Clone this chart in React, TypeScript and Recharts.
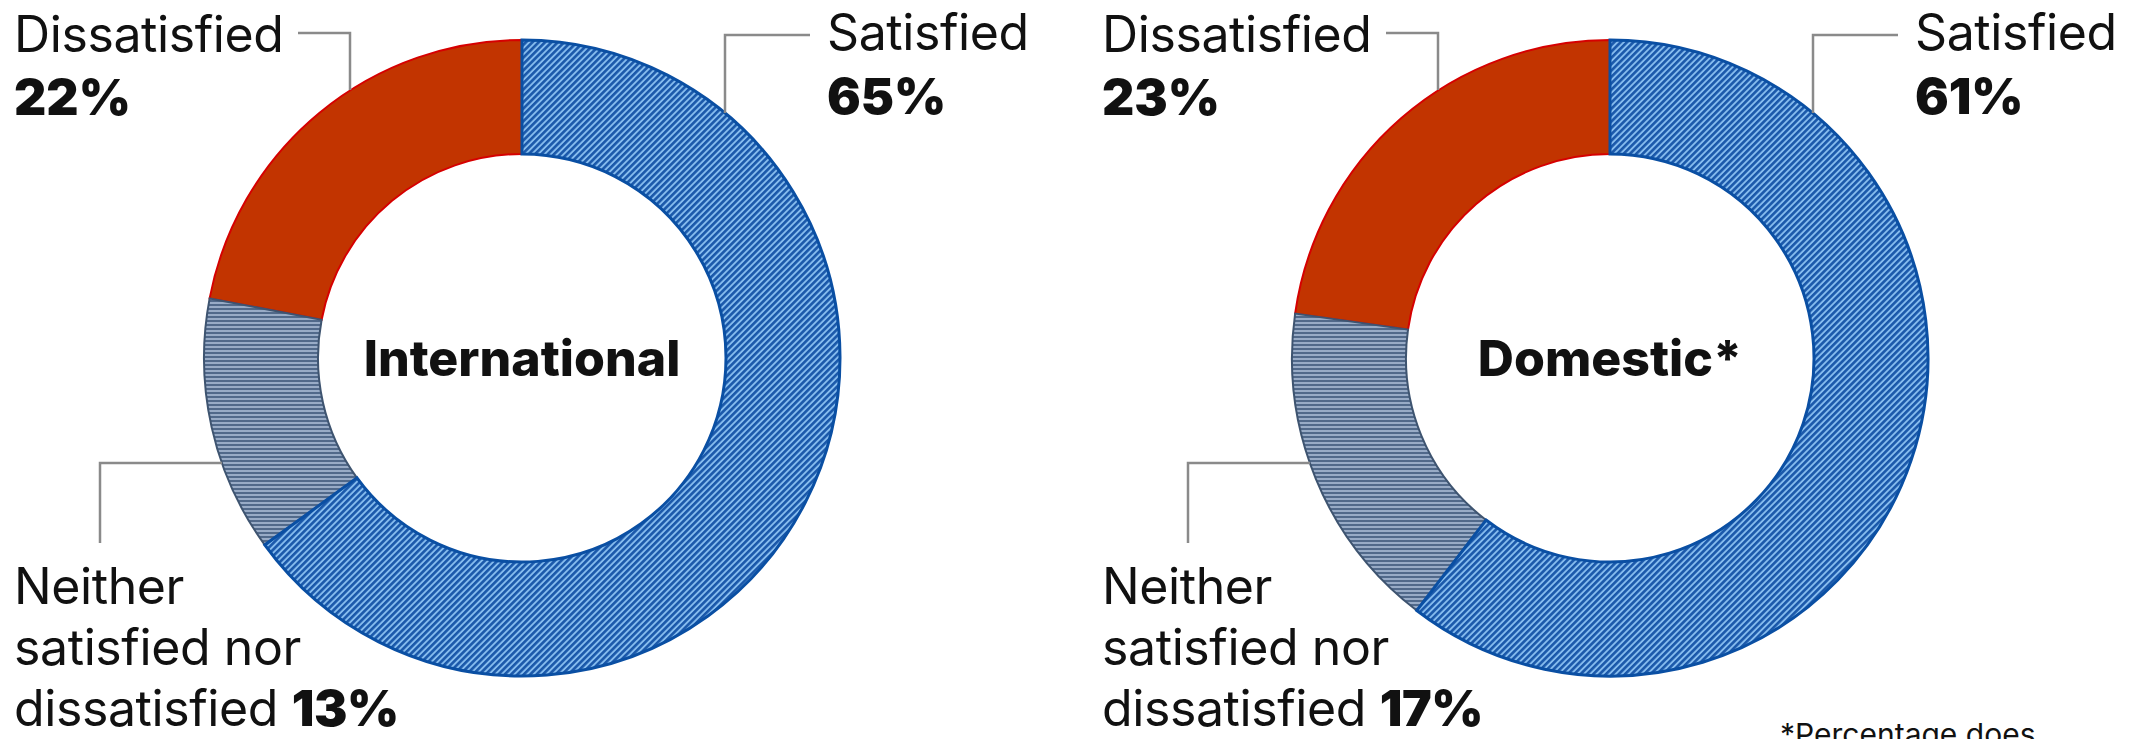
import { PieChart, Pie, Cell } from 'recharts'

const categories = ['Dissatisfied', 'Neither satisfied nor dissatisfied', 'Satisfied']
const internationalValues = [22, 13, 65]
const domesticValues = [23, 17, 61]
const chartTitles = ['International', 'Domestic*']
const footnote = '*Percentage does'

const fills = ['#c23400', 'url(#neitherStripes)', 'url(#satHatch)']
const strokes = ['#d60000', '#3e5470', '#0a4fa3']
const strokeWidths = [2, 2, 3]

const W = 2136
const H = 739
const CY = 358
const CX = [522, 1610]
const font = 'Inter, "Noto Sans", sans-serif'
const ink = '#111'
const lead = '#8a8a8a'

function toRows(values: number[]) {
  return categories.map((name, i) => ({ name, value: values[i] }))
}

function Callouts({ dx, values, title }: { dx: number; values: number[]; title: string }) {
  const [dis, neither, sat] = values
  const fs = 50
  return (
    <g transform={`translate(${dx},0)`} fontFamily={font} fill={ink}>
      <polyline points="298,33 350,33 350,90" fill="none" stroke={lead} strokeWidth={2.5} />
      <polyline points="810,35 725,35 725,113" fill="none" stroke={lead} strokeWidth={2.5} />
      <polyline points="100,543 100,463 222,463" fill="none" stroke={lead} strokeWidth={2.5} />

      <text x={14} y={52} fontSize={fs} letterSpacing={-0.4}>Dissatisfied</text>
      <text x={14} y={115} fontSize={fs} fontWeight={900}>{dis}%</text>

      <text x={827} y={50} fontSize={fs} letterSpacing={-0.4}>Satisfied</text>
      <text x={827} y={114} fontSize={fs} fontWeight={900}>{sat}%</text>

      <text x={14} y={604} fontSize={fs} letterSpacing={-0.4}>Neither</text>
      <text x={14} y={665} fontSize={fs} letterSpacing={-0.4}>satisfied nor</text>
      <text x={14} y={726} fontSize={fs} letterSpacing={-0.4}>
        dissatisfied <tspan fontWeight={900}>{neither}%</tspan>
      </text>

      <text x={522} y={376} fontSize={50} fontWeight={800} textAnchor="middle">{title}</text>
    </g>
  )
}

export default function App() {
  const sets = [internationalValues, domesticValues]
  return (
    <div style={{ position: 'relative', width: W, height: H, background: '#fff', overflow: 'hidden' }}>
      <style>{`body{margin:0}`}</style>
      <svg width={0} height={0} style={{ position: 'absolute' }}>
        <defs>
          <pattern id="satHatch" width={4.5} height={4.5} patternUnits="userSpaceOnUse" patternTransform="rotate(45)">
            <rect width={4.5} height={4.5} fill="#86bcee" />
            <rect width={2.6} height={4.5} fill="#1a58aa" />
          </pattern>
          <pattern id="neitherStripes" width={4} height={4} patternUnits="userSpaceOnUse">
            <rect width={4} height={4} fill="#98abc6" />
            <rect width={4} height={2} fill="#51698a" />
          </pattern>
        </defs>
      </svg>
      <div style={{ position: 'absolute', left: 0, top: 0 }}>
        <PieChart width={W} height={H} margin={{ top: 0, right: 0, bottom: 0, left: 0 }}>
          {sets.map((vals, k) => (
            <Pie
              key={k}
              data={toRows(vals)}
              dataKey="value"
              nameKey="name"
              cx={CX[k]}
              cy={CY}
              innerRadius={204}
              outerRadius={318}
              startAngle={90}
              endAngle={450}
              isAnimationActive={false}
            >
              {vals.map((_, i) => (
                <Cell key={i} fill={fills[i]} stroke={strokes[i]} strokeWidth={strokeWidths[i]} />
              ))}
            </Pie>
          ))}
        </PieChart>
      </div>
      <svg width={W} height={H} style={{ position: 'absolute', left: 0, top: 0, pointerEvents: 'none' }}>
        <Callouts dx={0} values={internationalValues} title={chartTitles[0]} />
        <Callouts dx={CX[1] - CX[0]} values={domesticValues} title={chartTitles[1]} />
        <text x={1780} y={745} fontSize={30} fontFamily={font} fill={ink}>{footnote}</text>
      </svg>
    </div>
  )
}
